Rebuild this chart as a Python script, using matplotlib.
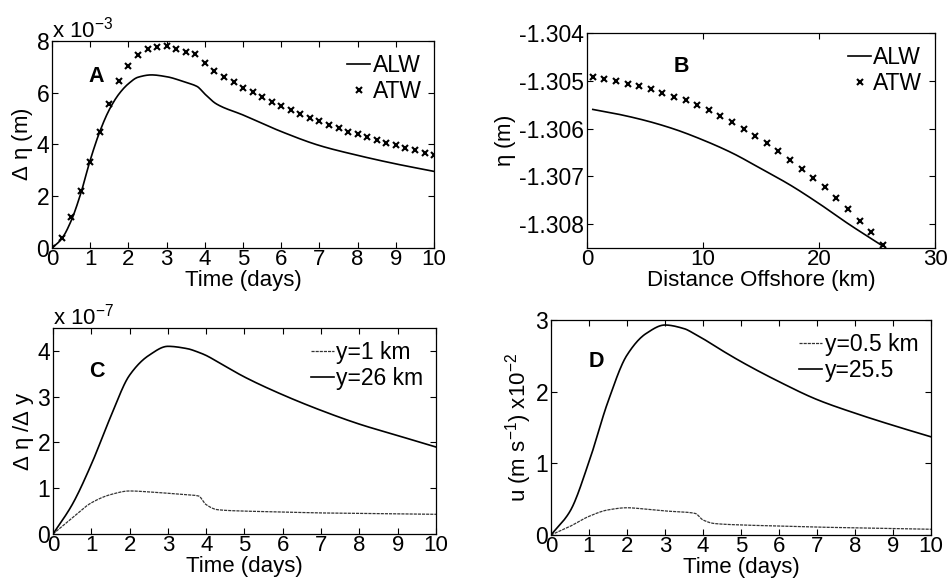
import numpy as np
import matplotlib
matplotlib.use('Agg')
import matplotlib.pyplot as plt

plt.rcParams['font.family'] = ['Liberation Sans', 'DejaVu Sans']
plt.rcParams['font.size'] = 16
plt.rcParams['xtick.labelsize'] = 16
plt.rcParams['ytick.labelsize'] = 16.5
plt.rcParams['mathtext.fontset'] = 'custom'
plt.rcParams['mathtext.rm'] = 'Liberation Sans'
plt.rcParams['mathtext.it'] = 'Liberation Sans'
plt.rcParams['axes.unicode_minus'] = False

# Panel A: delta eta (x 1e-3 m) vs time
a_alw_t = [0, 0.25, 0.5, 0.75, 1.0, 1.25, 1.5, 1.75, 2.0, 2.25, 2.6, 3.0, 3.5, 3.8, 4.0, 4.3,
           5.0, 6.0, 7.0, 8.0, 9.0, 10.0]
a_alw = [0, 0.35, 1.05, 2.1, 3.4, 4.5, 5.35, 5.95, 6.35, 6.6, 6.69, 6.62, 6.4, 6.24, 5.95, 5.57,
         5.14, 4.5, 3.96, 3.58, 3.25, 2.96]
a_atw_t = [0, 0.25, 0.5, 0.75, 1.0, 1.25, 1.5, 1.75, 2.0, 2.25, 2.5, 2.75, 3.0, 3.25, 3.5, 3.75,
           4.0, 4.25, 4.5, 4.75, 5.0, 5.25, 5.5, 5.75, 6.0, 6.25, 6.5, 6.75, 7.0, 7.25, 7.5,
           7.75, 8.0, 8.25, 8.5, 8.75, 9.0, 9.25, 9.5, 9.75, 10.0]
a_atw = [0, 0.39, 1.18, 2.21, 3.34, 4.5, 5.57, 6.46, 7.05, 7.46, 7.68, 7.77, 7.79, 7.70, 7.59,
         7.49, 7.16, 6.86, 6.61, 6.41, 6.20, 6.02, 5.83, 5.66, 5.49, 5.34, 5.18, 5.03, 4.90,
         4.77, 4.63, 4.50, 4.39, 4.28, 4.17, 4.06, 3.97, 3.88, 3.78, 3.69, 3.59]

# Panel B: eta (m) vs distance offshore
b_alw_x = [0.5, 2.5, 5.0, 7.5, 10.0, 12.5, 15.0, 17.5, 20.0, 22.5, 25.5]
b_alw = [-1.30560, -1.30569, -1.30583, -1.30601, -1.30624, -1.30651, -1.30684, -1.30718,
         -1.30757, -1.30799, -1.30846]
b_atw_x = [0.5, 1.5, 2.5, 3.5, 4.5, 5.5, 6.5, 7.5, 8.5, 9.5, 10.5, 11.5, 12.5, 13.5, 14.5,
           15.5, 16.5, 17.5, 18.5, 19.5, 20.5, 21.5, 22.5, 23.5, 24.5, 25.5]
b_atw = [-1.30492, -1.30497, -1.30501, -1.30506, -1.30511, -1.30518, -1.30525, -1.30533,
         -1.30541, -1.30551, -1.30562, -1.30574, -1.30587, -1.30600, -1.30615, -1.30631,
         -1.30647, -1.30666, -1.30684, -1.30703, -1.30723, -1.30746, -1.30769, -1.30793,
         -1.30817, -1.30844]

# Panel C: delta eta / delta y (x 1e-7)
c_t = [0, 0.5, 1.0, 1.5, 2.0, 2.5, 3.0, 3.5, 3.8, 4.0, 4.3, 5.0, 6.0, 7.0, 8.0, 9.0, 10.0]
c_y1 = [0, 0.35, 0.68, 0.86, 0.94, 0.92, 0.89, 0.86, 0.83, 0.64, 0.53, 0.50, 0.48, 0.46,
        0.45, 0.44, 0.43]
c_y26 = [0, 0.64, 1.52, 2.55, 3.47, 3.90, 4.10, 4.05, 3.97, 3.90, 3.76, 3.43, 3.04, 2.70,
         2.40, 2.15, 1.90]

# Panel D: u (m/s x 1e-2)
d_t = c_t
d_y05 = [0, 0.12, 0.26, 0.35, 0.38, 0.36, 0.335, 0.32, 0.30, 0.21, 0.16, 0.14, 0.125, 0.11,
         0.10, 0.09, 0.08]
d_y255 = [0, 0.33, 1.02, 1.86, 2.51, 2.81, 2.93, 2.88, 2.80, 2.74, 2.64, 2.42, 2.14, 1.89,
          1.70, 1.53, 1.37]


def smooth(x, y, n=400):
    # monotone cubic Hermite through the read points
    x = np.asarray(x, float)
    y = np.asarray(y, float)
    xs = np.linspace(x[0], x[-1], n)
    h = np.diff(x)
    d = np.diff(y) / h
    m = np.zeros_like(y)
    m[0], m[-1] = d[0], d[-1]
    for i in range(1, len(x) - 1):
        if d[i - 1] * d[i] <= 0:
            m[i] = 0
        else:
            w1 = 2 * h[i] + h[i - 1]
            w2 = h[i] + 2 * h[i - 1]
            m[i] = (w1 + w2) / (w1 / d[i - 1] + w2 / d[i])
    idx = np.clip(np.searchsorted(x, xs) - 1, 0, len(x) - 2)
    t = (xs - x[idx]) / h[idx]
    h00 = 2 * t**3 - 3 * t**2 + 1
    h10 = t**3 - 2 * t**2 + t
    h01 = -2 * t**3 + 3 * t**2
    h11 = t**3 - t**2
    ys = h00 * y[idx] + h10 * h[idx] * m[idx] + h01 * y[idx + 1] + h11 * h[idx] * m[idx + 1]
    return xs, ys


fig = plt.figure(figsize=(9.48, 5.85), dpi=100)
axA = fig.add_axes([0.0549, 0.5761, 0.4030, 0.3538])
axB = fig.add_axes([0.6192, 0.5761, 0.3671, 0.3675])
axC = fig.add_axes([0.0559, 0.0872, 0.4040, 0.3521])
axD = fig.add_axes([0.5812, 0.0855, 0.4008, 0.3675])

for ax in [axA, axB, axC, axD]:
    ax.tick_params(direction='in', top=True, right=True, length=4, width=0.8, pad=1)
    ax.tick_params(axis='y', pad=2)
    for s in ax.spines.values():
        s.set_linewidth(0.9)

lw = 1.2
leg_kw = dict(loc='upper right', frameon=False, handlelength=1.0, handletextpad=0.1,
              borderaxespad=0.15, labelspacing=0.15, fontsize=16.5)
thin = (0, (2.5, 0.8))

# A
axA.plot(*smooth(a_alw_t, a_alw), color='black', lw=lw, label='ALW')
axA.plot(a_atw_t, a_atw, 'x', color='black', ms=5, mew=1.5, label='ATW')
axA.set_xlim(0, 10)
axA.set_ylim(0, 8)
axA.set_xticks(range(0, 11))
axA.set_yticks([0, 2, 4, 6, 8])
axA.set_xlabel('Time (days)', labelpad=0)
axA.set_ylabel(r'$\Delta\ \eta$ (m)', labelpad=1)
axA.text(0.095, 0.80, 'A', transform=axA.transAxes, fontweight='bold', fontsize=15.5)
axA.text(0.0, 0.995, r'x 10$^{-3}$', transform=axA.transAxes, ha='left', va='bottom')
axA.legend(**leg_kw)

# B
axB.plot(*smooth(b_alw_x, b_alw), color='black', lw=lw, label='ALW')
axB.plot(b_atw_x, b_atw, 'x', color='black', ms=5, mew=1.5, label='ATW')
axB.set_xlim(0, 30)
axB.set_ylim(-1.3085, -1.304)
axB.set_xticks([0, 10, 20, 30])
axB.set_yticks([-1.308, -1.307, -1.306, -1.305, -1.304])
axB.set_yticklabels(['-1.308', '-1.307', '-1.306', '-1.305', '-1.304'])
axB.set_xlabel('Distance Offshore (km)', labelpad=0)
axB.set_ylabel(r'$\eta$ (m)', labelpad=1)
axB.text(0.25, 0.82, 'B', transform=axB.transAxes, fontweight='bold', fontsize=15.5)
axB.legend(**leg_kw)

# C
axC.plot(*smooth(c_t, c_y1), color='#333333', lw=0.9, ls=thin, label='y=1 km')
axC.plot(*smooth(c_t, c_y26), color='black', lw=lw, label='y=26 km')
axC.set_xlim(0, 10)
axC.set_ylim(0, 4.5)
axC.set_xticks(range(0, 11))
axC.set_yticks([0, 1, 2, 3, 4])
axC.set_xlabel('Time (days)', labelpad=0)
axC.set_ylabel(r'$\Delta\ \eta\ /\Delta$ y', labelpad=1)
axC.text(0.095, 0.76, 'C', transform=axC.transAxes, fontweight='bold', fontsize=15.5)
axC.text(0.0, 0.995, r'x 10$^{-7}$', transform=axC.transAxes, ha='left', va='bottom')
axC.legend(**leg_kw)

# D
axD.plot(*smooth(d_t, d_y05), color='#333333', lw=0.9, ls=thin, label='y=0.5 km')
axD.plot(*smooth(d_t, d_y255), color='black', lw=lw, label='y=25.5')
axD.set_xlim(0, 10)
axD.set_ylim(0, 3)
axD.set_xticks(range(0, 11))
axD.set_yticks([0, 1, 2, 3])
axD.set_xlabel('Time (days)', labelpad=0)
axD.set_ylabel(r'u (m s$^{-1}$) x10$^{-2}$', labelpad=1)
axD.text(0.10, 0.78, 'D', transform=axD.transAxes, fontweight='bold', fontsize=15.5)
axD.legend(**leg_kw)

fig.savefig('out.png', dpi=100)
